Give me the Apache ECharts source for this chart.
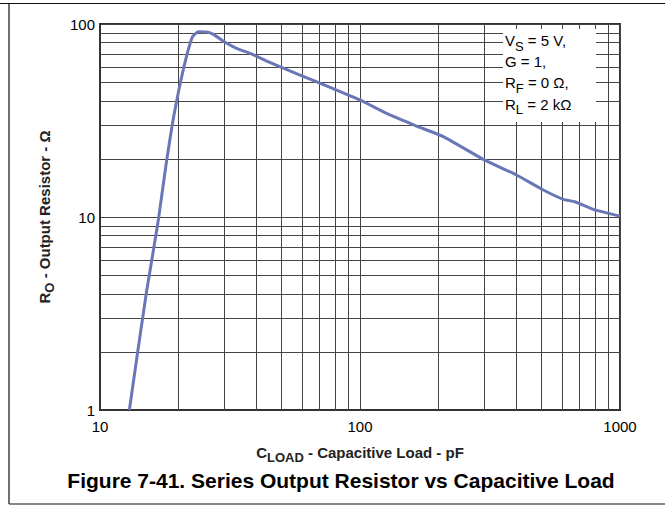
<!DOCTYPE html>
<html>
<head>
<meta charset="utf-8">
<script src="https://cdn.jsdelivr.net/npm/echarts@6/dist/echarts.min.js"></script>
<style>
html,body{margin:0;padding:0;background:#fff;}
#chart{width:665px;height:508px;}
</style>
</head>
<body>
<div id="chart"></div>
<script>
// C_LOAD (pF) and R_O (ohm)
const capLoad = [12.97, 14.0, 15.1, 16.1, 16.8, 18.05, 19.1, 20.1, 21.5, 22.7, 23.9, 25.7, 27.3, 30.3, 33.5, 37.8, 43.8, 50.7, 58.8, 76.7, 100, 126.6, 165, 209, 298, 400, 507, 605, 671, 789, 1000];
const outRes  = [1.0, 2.05, 4.1, 6.9, 9.85, 19.7, 31.8, 45.5, 67.7, 86, 91.2, 90.9, 88.4, 80.4, 74.8, 70.5, 64.3, 59.0, 54.4, 47.0, 40.4, 34.4, 29.6, 26.1, 19.9, 16.5, 13.8, 12.35, 12.0, 10.96, 10.1];

// tick labels and minor grid values
const xTicks = [10, 100, 1000];
const yTicks = [1, 10, 100];
const xMinorGrid = [20, 30, 40, 50, 60, 70, 80, 90, 200, 300, 400, 500, 600, 700, 800, 900];
const yMinorGrid = [2, 3, 4, 5, 6, 7, 8, 9, 20, 30, 40, 50, 60, 70, 80, 90];

const titleText = 'Figure 7-41. Series Output Resistor vs Capacitive Load';
const conditions = [
  ['V', 'S', ' = 5 V,'],
  ['G = 1,', '', ''],
  ['R', 'F', ' = 0 \u03A9,'],
  ['R', 'L', ' = 2 k\u03A9']
];

const FONT = '"Liberation Sans", Arial, Helvetica, sans-serif';
const GRID_COLOR = '#444';

const chart = echarts.init(document.getElementById('chart'), null, {renderer: 'svg'});

const seriesData = capLoad.map((c, i) => [c, outRes[i]]);

const condGraphics = conditions.map((c, i) => ({
  type: 'text',
  z: 61,
  x: 505,
  y: 40.5 + i * 21.2,
  style: {
    text: '{n|' + c[0] + '}' + (c[1] ? '{s|' + c[1] + '}' : '') + (c[2] ? '{n|' + c[2] + '}' : ''),
    verticalAlign: 'middle',
    align: 'left',
    fill: '#000',
    rich: {
      n: {fontFamily: FONT, fontSize: 15, color: '#000'},
      s: {fontFamily: FONT, fontSize: 13, color: '#000', padding: [11, 0, 0, 0]}
    }
  }
}));

const option = {
  backgroundColor: '#fff',
  animation: false,
  title: {
    text: titleText,
    left: 336,
    top: 465,
    textAlign: 'center',
    textStyle: {fontFamily: FONT, fontSize: 21, fontWeight: 'bold', color: '#000'}
  },
  grid: {
    left: 100, top: 24, right: 45, bottom: 98,
    show: true, borderColor: '#333', borderWidth: 2, backgroundColor: 'transparent'
  },
  xAxis: {
    type: 'log', logBase: 10, min: 10, max: 1000,
    name: '{b|C}{s|LOAD}{b| - Capacitive Load - pF}',
    nameLocation: 'middle', nameGap: 30,
    nameTextStyle: {
      rich: {
        b: {fontFamily: FONT, fontSize: 15, fontWeight: 'bold', color: '#222'},
        s: {fontFamily: FONT, fontSize: 13, fontWeight: 'bold', color: '#222', padding: [11, 0, 0, 0]}
      }
    },
    axisLine: {show: true, lineStyle: {color: '#333', width: 2}},
    axisTick: {show: false},
    axisLabel: {
      fontFamily: FONT, fontSize: 15, color: '#000', margin: 9,
      formatter: v => xTicks.includes(Math.round(v)) ? String(Math.round(v)) : ''
    },
    splitLine: {show: true, lineStyle: {color: GRID_COLOR, width: 1}},
    minorTick: {show: false}, minorSplitLine: {show: false}
  },
  yAxis: {
    type: 'log', logBase: 10, min: 1, max: 100,
    name: '{b|R}{s|O}{b| - Output Resistor - \u03A9}',
    nameLocation: 'middle', nameGap: 44, nameRotate: 90,
    nameTextStyle: {
      rich: {
        b: {fontFamily: FONT, fontSize: 15, fontWeight: 'bold', color: '#222'},
        s: {fontFamily: FONT, fontSize: 13, fontWeight: 'bold', color: '#222', padding: [11, 0, 0, 0]}
      }
    },
    axisLine: {show: true, lineStyle: {color: '#333', width: 2}},
    axisTick: {show: false},
    axisLabel: {
      fontFamily: FONT, fontSize: 15, color: '#000', margin: 5,
      formatter: v => yTicks.includes(Math.round(v)) ? String(Math.round(v)) : ''
    },
    splitLine: {show: true, lineStyle: {color: GRID_COLOR, width: 1}},
    minorTick: {show: false}, minorSplitLine: {show: false}
  },
  series: [
    {
      name: 'grid',
      type: 'line',
      z: 1,
      silent: true,
      data: [[10, 1]],
      showSymbol: false,
      lineStyle: {opacity: 0},
      markLine: {
        silent: true,
        symbol: ['none', 'none'],
        label: {show: false},
        animation: false,
        lineStyle: {color: GRID_COLOR, width: 1, type: 'solid'},
        data: xMinorGrid.map(v => ({xAxis: v})).concat(yMinorGrid.map(v => ({yAxis: v})))
      }
    },
    {
      name: 'R_O',
      type: 'line',
      z: 5,
      data: seriesData,
      showSymbol: false,
      smooth: 0.15,
      lineStyle: {color: '#6a77b6', width: 3}
    }
  ],
  graphic: [
    {type: 'line', z: 70, shape: {x1: 0, y1: 3.5, x2: 665, y2: 3.5}, style: {stroke: '#111', lineWidth: 1.2}},
    {type: 'line', z: 70, shape: {x1: 9, y1: 3.5, x2: 9, y2: 504}, style: {stroke: '#111', lineWidth: 1.2}},
    {type: 'line', z: 70, shape: {x1: 9, y1: 504, x2: 665, y2: 504}, style: {stroke: '#111', lineWidth: 1.2}},
    {type: 'rect', z: 60, shape: {x: 503, y: 29, width: 93, height: 93}, style: {fill: '#fff'}}
  ].concat(condGraphics)
};

chart.setOption(option);
</script>
</body>
</html>
